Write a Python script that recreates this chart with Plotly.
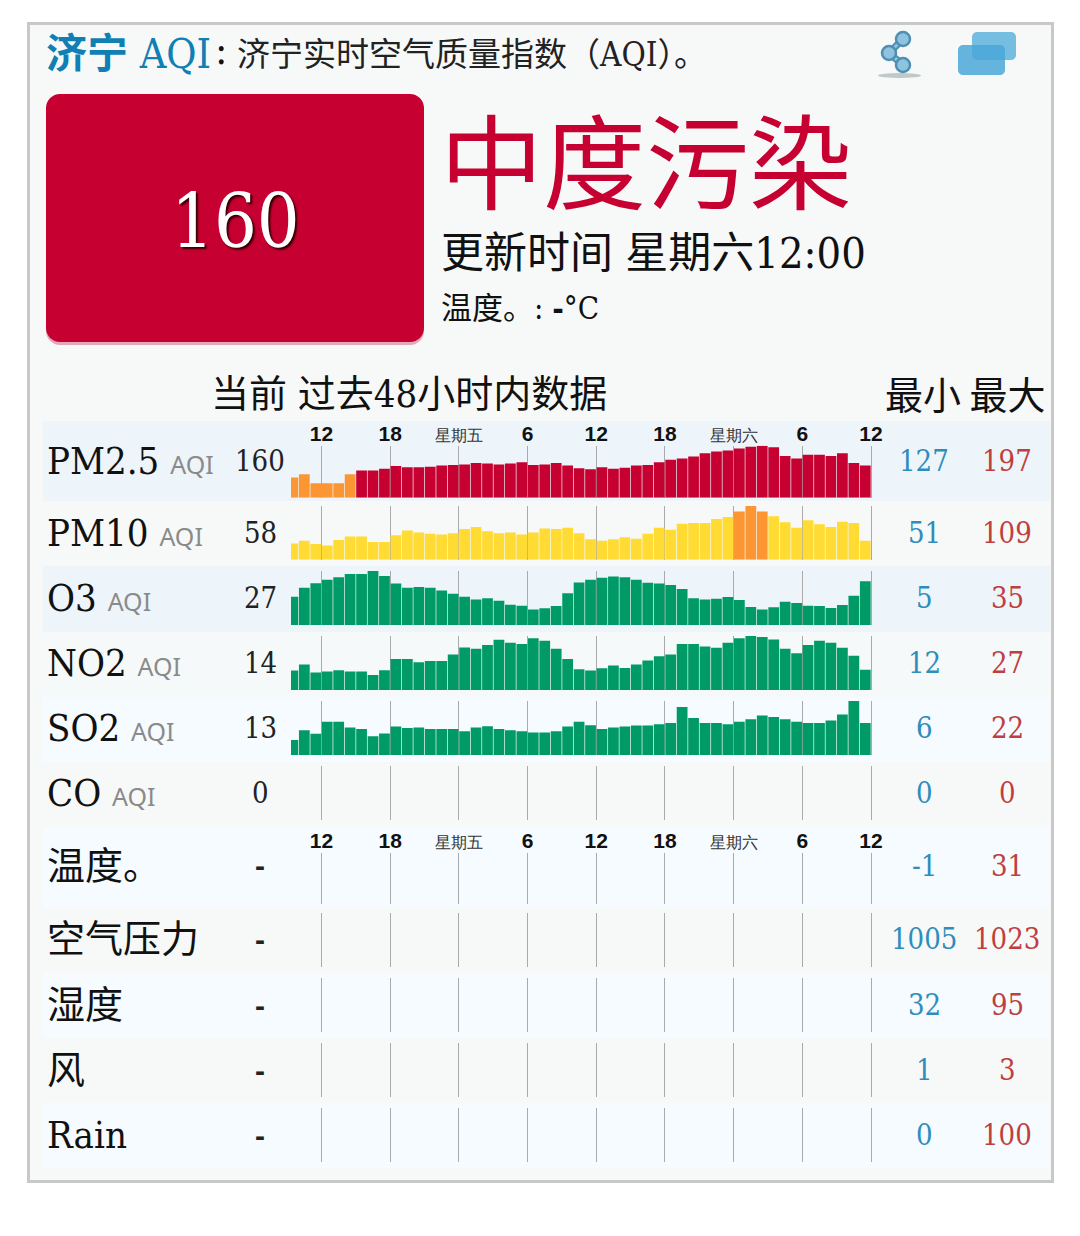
import plotly.graph_objects as go

W, H = 1080, 1236

# ---------- data ----------
pollutants = ["PM2.5", "PM10", "O3", "NO2", "SO2"]
pm25 = [138,144,127,127,127,144,151,151,154,159,157,157,158,160,161,162,165,164,162,164,166,161,162,165,160,155,
        153,157,154,156,160,161,166,171,173,177,183,186,188,192,195,197,194,178,173,180,180,178,183,165,160]
pm10 = [54,58,53,51,59,64,64,56,56,66,73,70,68,67,69,75,78,72,69,70,67,70,76,75,77,69,
        60,58,60,63,61,68,77,74,83,84,84,90,93,101,109,101,94,85,77,88,82,78,86,84,58]
o3 = [14.9,21.9,25.5,28.1,30.2,32.6,32.6,35,31,25.3,21.9,22.4,21.9,19.8,17.2,14.9,12.8,13.8,11.8,8.6,7.9,5,5.8,7.6,17.7,26,
      28.1,29.7,30.7,30.2,28.1,25.8,25.3,24,20.9,13.8,12.8,13.3,14.6,12.3,6.8,5,6.6,11,9.9,7.9,7.6,6,8.4,15.7,27]
no2 = [13.7,16,12.9,13.3,13.8,13.3,13.3,12,13.8,18.1,18.1,16.9,17.4,17.4,19.9,22.6,22.1,23.5,25.6,24.4,23.9,26.1,25.2,22.1,18.1,14.2,
       13.7,14.6,15.6,14.7,16,17.6,19.2,19.9,23.9,23.9,23,22.5,24.4,26.1,27,26.6,25.7,22.1,20.4,23.5,25.2,24.4,22.5,19.4,14]
so2 = [6,10,8.5,13.5,13.5,11.1,10.5,7.5,8.6,11.5,10.9,11.1,10.5,10.5,10.5,9.6,11.1,11.6,10.5,10,9.6,9,9,9.6,11.5,13.5,
       12,10.5,11.1,11.5,11.9,11.9,12.4,13,19.5,15,13,13,12.4,13.5,14.5,16,15.4,14.5,13.5,13,13,14,16.5,22,13]
series = [pm25, pm10, o3, no2, so2]
series_floor = [100.2, 30, -7.2, 6.2, -0.2]   # value at each row's baseline
series_peak = [197, 109, 35, 27, 22]

row_names = ["PM2.5", "PM10", "O3", "NO2", "SO2", "CO", "温度。", "空气压力", "湿度", "风", "Rain"]
row_has_aqi = [True, True, True, True, True, True, False, False, False, False, False]
row_current = ["160", "58", "27", "14", "13", "0", "-", "-", "-", "-", "-"]
row_min = ["127", "51", "5", "12", "6", "0", "-1", "1005", "32", "1", "0"]
row_max = ["197", "109", "35", "27", "22", "0", "31", "1023", "95", "3", "100"]

tick_hours = [0, 6, 12, 18, 24, 30, 36, 42, 48]
tick_labels = ["12", "18", "星期五", "6", "12", "18", "星期六", "6", "12"]
bar_hours = [k - 2.5 for k in range(51)]   # bar centres, hours after the first "12"

# ---------- colours ----------
RED, ORANGE, YELLOW, GREEN = "#c60030", "#fb9632", "#ffdb33", "#009a66"
def aqi_color(v):
    return RED if v > 150 else ORANGE if v > 100 else YELLOW if v > 50 else GREEN

# ---------- layout geometry in page pixels ----------
def px(x): return x / W
def py(y): return 1 - y / H

X0, X1 = 291, 873.3
band_y = [421, 501, 566, 632, 697, 762, 827, 908, 973, 1038, 1103, 1168]
band_col = ["#edf5fb", "#f7f9f9", "#edf5fb", "#f6f9f9", "#f5fbfe", "#f7f9f9", "#f5fbfe", "#f7f9f9", "#f5fbfe", "#f7f9f9", "#f5fbfe"]
grid_top = [445.7, 506, 571, 636, 701, 766, 853, 913, 978, 1043, 1108]
grid_bot = [497.7, 559.7, 625, 690, 755, 820, 904, 967, 1032, 1097, 1162]
row_text_y = [461, 533, 598, 663, 728, 793, 866, 939, 1005, 1070, 1135]

SERIF = "DejaVu Serif Condensed, DejaVu Serif, Noto Sans CJK SC"
CJK = "Noto Sans CJK SC"
SANS = "Liberation Sans"

fig = go.Figure()
shapes, ann = [], []

def rect(x0, y0, x1, y1, fill, line=None, lw=0, layer="below"):
    shapes.append(dict(type="rect", xref="paper", yref="paper", x0=px(x0), x1=px(x1), y0=py(y0), y1=py(y1),
                       fillcolor=fill, line=dict(color=line or fill, width=lw), layer=layer))

def round_rect(x0, y0, x1, y1, r, fill, opacity=1.0):
    k = r * 0.45
    P = lambda x, y: f"{px(x):.5f},{py(y):.5f}"
    d = (f"M{P(x0+r,y0)} L{P(x1-r,y0)} C{P(x1-k,y0)} {P(x1,y0+k)} {P(x1,y0+r)} L{P(x1,y1-r)} "
         f"C{P(x1,y1-k)} {P(x1-k,y1)} {P(x1-r,y1)} L{P(x0+r,y1)} C{P(x0+k,y1)} {P(x0,y1-k)} {P(x0,y1-r)} "
         f"L{P(x0,y0+r)} C{P(x0,y0+k)} {P(x0+k,y0)} {P(x0+r,y0)} Z")
    shapes.append(dict(type="path", xref="paper", yref="paper", path=d, fillcolor=fill,
                       line=dict(width=0), opacity=opacity, layer="below"))

def text(x, y, s, size, color="#111", family=SERIF, anchor="left", **kw):
    ann.append(dict(x=px(x), y=py(y), xref="paper", yref="paper", text=s, showarrow=False,
                    xanchor=anchor, yanchor="middle", align=anchor,
                    font=dict(size=size, color=color, family=family, **kw)))

# card and bands
rect(28.5, 23.5, 1052.5, 1181.5, "#f7f9f9", "#c8c8c8", 3)
for i, c in enumerate(band_col):
    rect(43, band_y[i], 1050, band_y[i + 1], c)

# header
text(44, 50, '<b><span style="font-family:Noto Sans CJK SC;font-size:41px">济宁</span></b> AQI', 41, "#0f7fb4")
text(213, 50, ":", 41, "#111")
text(235, 55, "济宁实时空气质量指数（AQI）。", 33, "#222", SERIF)

# share icon
shapes.append(dict(type="circle", xref="paper", yref="paper", x0=px(878), x1=px(921), y0=py(78), y1=py(73),
                   fillcolor="#9aa8a8", opacity=0.6, line=dict(width=0), layer="below"))
for (a, b) in [((903, 39), (889, 53)), ((889, 53), (903, 65))]:
    shapes.append(dict(type="line", xref="paper", yref="paper", x0=px(a[0]), y0=py(a[1]), x1=px(b[0]), y1=py(b[1]),
                       line=dict(color="#4f8fb3", width=7), layer="below"))
    shapes.append(dict(type="line", xref="paper", yref="paper", x0=px(a[0]), y0=py(a[1]), x1=px(b[0]), y1=py(b[1]),
                       line=dict(color="#8fc4e0", width=3), layer="below"))
for cx, cy in [(903, 39), (889, 53), (903, 65)]:
    shapes.append(dict(type="circle", xref="paper", yref="paper", x0=px(cx-7), x1=px(cx+7), y0=py(cy+7), y1=py(cy-7),
                       fillcolor="#8fc4e0", line=dict(color="#4f8fb3", width=2.5), layer="below"))
# cards icon
round_rect(972, 32, 1016, 60, 5, "#4aa8d8", 0.75)
round_rect(958, 45, 1005, 75, 5, "#4aa8d8", 0.85)

# AQI tile
round_rect(46, 96, 424, 345, 14, "#e3a9b8")
round_rect(46, 94, 424, 342, 14, RED)
text(235, 221, "160", 75, "#ffffff", SERIF, "center", shadow="2px 2px 2px #300")
text(438, 158, "中度污染", 103, RED, CJK)
text(439, 253, "更新时间 星期六12:00", 43, "#111", SERIF)
text(439, 308, '温度。: <b>-</b>°C', 31, "#111", SERIF)

# table header
text(209, 394, "当前 过去48小时内数据", 38, "#111", SERIF)
text(883, 392, "最小 最大", 38, "#111", CJK)

# rows
for i, name in enumerate(row_names):
    y = row_text_y[i]
    t = name
    if row_has_aqi[i]:
        t += ' <span style="font-family:Noto Sans;font-size:25px;color:#8a8a8a">AQI</span>'
    text(45, y, t, 38, "#111", SERIF)
    if row_current[i] == "-":
        text(260, y, "<b>-</b>", 30, "#222", SANS, "center")
    else:
        text(260, y, row_current[i], 29, "#222", SERIF, "center")
    text(924, y, row_min[i], 29, "#2f8dbb", SERIF, "center")
    text(1007, y, row_max[i], 29, "#bf3f3f", SERIF, "center")

# axes for each row (bars + hour grid lines)
xrange_ = [-2.664, 48.2]
tick_text = [f'<span style="font-size:16px;color:#333">{t}</span>' if len(t) > 2 else f"<b>{t}</b>" for t in tick_labels]
layout_axes = {}
for i in range(len(row_names)):
    n = "" if i == 0 else str(i + 1)
    labelled = i in (0, 6)
    layout_axes[f"xaxis{n}"] = dict(
        domain=[px(X0), px(X1)], range=xrange_, anchor=f"y{n}", side="top", showline=False, zeroline=False,
        tickmode="array", tickvals=tick_hours, ticktext=tick_text, showticklabels=labelled,
        ticks="", showgrid=True, gridcolor="#aaaaaa", gridwidth=1,
        tickfont=dict(size=21, color="#111", family=SANS), fixedrange=True)
    yr = [series_floor[i], series_peak[i]] if i < 5 else [0, 1]
    layout_axes[f"yaxis{n}"] = dict(
        domain=[py(grid_bot[i]), py(grid_top[i])], range=yr, anchor=f"x{n}",
        showgrid=False, zeroline=False, showline=False, showticklabels=False, ticks="", fixedrange=True)

for i, vals in enumerate(series):
    n = "" if i == 0 else str(i + 1)
    floor = series_floor[i]
    fig.add_trace(go.Bar(
        x=bar_hours, y=[v - floor for v in vals], base=floor, width=0.94, name=pollutants[i],
        marker=dict(color=[aqi_color(v if i < 2 else 0) for v in vals], line=dict(width=0)),
        xaxis=f"x{n}", yaxis=f"y{n}", showlegend=False, customdata=vals, hovertemplate="%{customdata}<extra></extra>"))

# rows without data still get their hour grid
for i in range(5, len(row_names)):
    n = str(i + 1)
    fig.add_trace(go.Bar(x=[0], y=[None], xaxis=f"x{n}", yaxis=f"y{n}", showlegend=False, name=row_names[i]))

fig.update_layout(width=W, height=H, margin=dict(l=0, r=0, t=0, b=0, autoexpand=False), autosize=False,
                  paper_bgcolor="#ffffff", plot_bgcolor="rgba(0,0,0,0)", barmode="overlay",
                  shapes=shapes, annotations=ann, showlegend=False, **layout_axes)
fig.write_html("out.html", config=dict(displayModeBar=False, responsive=False),
               default_width="1080px", default_height="1236px",
               post_script="document.body.style.margin='0';document.documentElement.style.overflow='hidden';")
